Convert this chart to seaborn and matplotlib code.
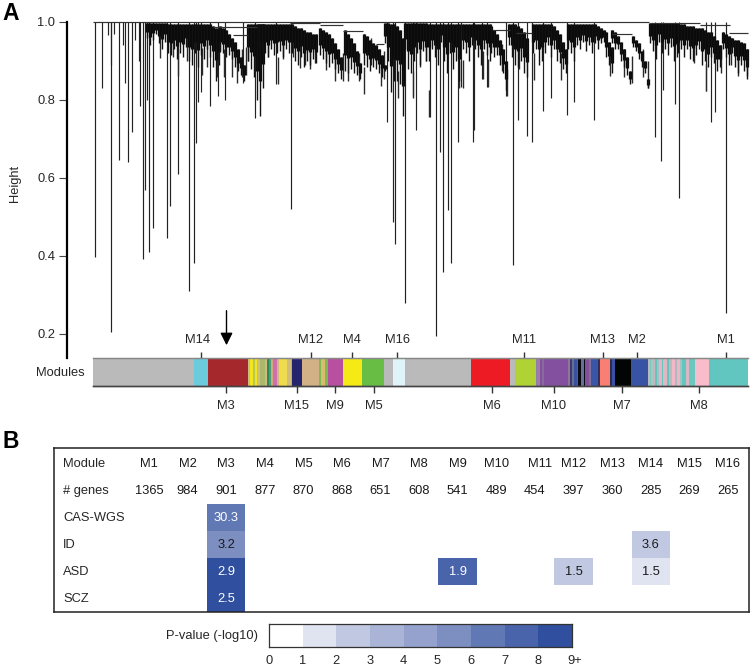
"""Module dendrogram with colour bar (A) and enrichment table (B)."""

import numpy as np
import pandas as pd
import matplotlib
matplotlib.use("Agg")
import matplotlib.pyplot as plt
from matplotlib.colors import ListedColormap
from matplotlib.transforms import ScaledTranslation
import seaborn as sns

WIDTH, HEIGHT = 751, 666
FONT = 9.3

# --- dendrogram: long single branches (leaf position, lowest height) ---
stem_x = [95, 102, 107.5, 110.5, 111, 114, 118.5, 122.5, 125, 128, 131.5, 135, 139, 140, 143, 144.7,
          147, 148.5, 152.5, 167, 170, 178, 189, 194, 196, 198, 201, 210, 217.5, 225, 243, 255, 276, 291,
          386.5, 393, 395, 404.5, 413, 416, 430, 436, 440, 443, 448, 451, 458, 461, 473, 474, 482, 487,
          506, 512.5, 518, 527, 531.5, 542.5, 551, 567, 574, 594,
          654.5, 661, 663, 675, 678.5, 706, 711, 714.5, 726]
stem_low = [.397, .83, .967, .89, .205, .97, .646, .94, .843, .64, .718, .955, .90, .785, .392, .57,
            .80, .41, .472, .446, .527, .61, .31, .382, .69, .795, .82, .785, .81, .80, .843, .754, .84, .52,
            .744, .487, .431, .28, .81, .723, .757, .195, .667, .359, .518, .382, .692, .833, .692, .723, .855, .833,
            .81, .377, .75, .708, .692, .772, .805, .762, .795, .748,
            .705, .644, .825, .79, .55, .823, .744, .77, .254]

# --- dendrogram: medium tails below the clumps ---
tail_x = [160, 172.5, 178.3, 186.7, 201.7, 206.7, 216.7, 224, 231.7, 236.7, 241.7, 246, 248.3, 256.7,
          263.3, 268.3, 278.3, 283.3, 293.3, 300, 305, 310, 315, 326, 335, 343.3, 347.7, 359, 364.3, 371,
          381, 384.3, 397.7, 412.7, 420.3, 426, 429.3, 459.3, 463.3, 482.7, 487.7, 502, 506.7, 519.3, 533.7,
          561, 610.3, 624.3, 631.7, 642.7, 647.7, 694.3, 706, 721, 731, 737.7, 747]
tail_low = [.907, .911, .862, .90, .864, .885, .86, .86, .86, .843, .86, .865, .90, .885,
            .925, .911, .84, .905, .911, .883, .89, .879, .894, .877, .85, .85, .85, .85, .815, .89,
            .836, .855, .804, .804, .885, .90, .756, .83, .832, .855, .834, .874, .809, .88, .851,
            .851, .862, .86, .843, .86, .83, .894, .823, .87, .89, .861, .861]

# --- dendrogram: dense clumps, (top, low) per leaf, left to right ---
clump_starts = [147, 168, 207, 220, 248, 259, 292, 320, 345, 364, 385, 405,
                429, 463, 491, 509, 533, 568, 606, 612, 633, 650, 678, 723]
clump_01 = [(.998, .96), (.998, .94), (.998, .955), (.998, .97), (.998, .945), (.998, .93), (.998, .95)]
clump_02 = [(.996, .92), (.996, .915), (.996, .93), (.996, .905), (.996, .92), (.996, .91), (.996, .935),
            (.996, .90), (.996, .89), (.996, .92), (.996, .885), (.996, .915), (.996, .905)]
clump_03 = [(.996, .93), (.994, .91), (.99, .885), (.985, .85), (.98, .89)]
clump_04 = [(.99, .925), (.985, .92), (.98, .91), (.97, .915), (.96, .905), (.95, .885), (.93, .875),
            (.91, .865), (.89, .85)]
clump_05 = [(.996, .90), (.996, .88), (.996, .86), (.996, .80), (.996, .76), (.996, .83)]
clump_06 = [(.995, .93), (.995, .925), (.995, .92), (.995, .91), (.995, .93), (.995, .915), (.995, .92),
            (.995, .925), (.995, .91), (.995, .93), (.995, .92)]
clump_07 = [(.995, .92), (.99, .90), (.985, .89), (.985, .91), (.98, .885), (.975, .90), (.975, .89),
            (.97, .905), (.97, .895)]
clump_08 = [(.985, .915), (.98, .905), (.975, .895), (.97, .885), (.96, .895), (.945, .88), (.93, .87), (.91, .855)]
clump_09 = [(.98, .875), (.97, .87), (.96, .88), (.945, .87), (.925, .865), (.895, .855)]
clump_10 = [(.97, .89), (.965, .885), (.955, .875), (.945, .885), (.94, .88), (.93, .87), (.915, .86), (.89, .875)]
clump_11 = [(.997, .945), (.997, .90), (.996, .82), (.995, .85), (.99, .85), (.98, .84), (.96, .76)]
clump_12 = [(.997, .93), (.997, .88), (.997, .87), (.997, .90), (.997, .92), (.997, .89), (.997, .925), (.997, .90)]
clump_13 = [(.995, .90), (.995, .93), (.995, .91), (.995, .89), (.995, .95), (.995, .90), (.995, .87),
            (.995, .92), (.995, .88), (.995, .90), (.995, .85)]
clump_14 = [(.995, .93), (.995, .92), (.995, .90), (.995, .94), (.995, .93), (.995, .91), (.995, .89),
            (.995, .93), (.995, .915), (.995, .90)]
clump_15 = [(.99, .92), (.98, .91), (.97, .915), (.955, .89), (.93, .87), (.90, .825)]
clump_16 = [(.995, .94), (.995, .91), (.995, .89), (.99, .885), (.985, .90), (.975, .87), (.96, .86)]
clump_17 = [(.995, .92), (.995, .93), (.995, .89), (.995, .90), (.995, .92), (.995, .94), (.995, .91),
            (.99, .93), (.98, .90), (.97, .895), (.95, .88), (.93, .87)]
clump_18 = [(.995, .93), (.995, .92), (.995, .90), (.995, .94), (.995, .93), (.995, .95), (.995, .925),
            (.995, .94), (.995, .92), (.995, .945), (.99, .93), (.985, .945), (.98, .95)]
clump_19 = [(.975, .91), (.95, .89), (.935, .87)]
clump_20 = [(.98, .945), (.975, .93), (.965, .93), (.95, .90), (.93, .885), (.91, .865), (.875, .84)]
clump_21 = [(.965, .935), (.955, .925), (.945, .905), (.925, .885), (.90, .87), (.855, .83)]
clump_22 = [(.998, .945), (.998, .925), (.998, .905), (.998, .95), (.998, .92), (.998, .93), (.998, .915),
            (.998, .935), (.998, .90), (.998, .91)]
clump_23 = [(.995, .92), (.995, .93), (.995, .91), (.99, .93), (.99, .905), (.99, .90), (.985, .915),
            (.985, .93), (.985, .89), (.98, .90), (.975, .885), (.975, .91), (.965, .895), (.955, .875), (.94, .885)]
clump_24 = [(.975, .93), (.97, .91), (.965, .89), (.96, .92), (.955, .885), (.955, .87), (.95, .89),
            (.945, .875), (.93, .855)]
clumps = [clump_01, clump_02, clump_03, clump_04, clump_05, clump_06, clump_07, clump_08,
          clump_09, clump_10, clump_11, clump_12, clump_13, clump_14, clump_15, clump_16,
          clump_17, clump_18, clump_19, clump_20, clump_21, clump_22, clump_23, clump_24]

# --- dendrogram: horizontal merges ---
shelf_from = [93, 213, 233, 290, 320, 343, 376, 492, 516, 612, 650, 700, 729]
shelf_to = [649, 257, 248, 320, 343, 363, 384, 510, 532, 632, 700, 730, 748]
shelf_height = [1.0, .988, .967, .997, .992, .978, .944, .98, .971, .969, .998, .992, .973]

# --- colour bar under the tree ---
module_widths = [101, 13.5, 40.5,
                 1.5, 3.5, 2, 2, 2.5, 5.5, 2, 2, 2, 2, 4, 2, 2, 6, 3.5, 1.5,
                 10, 17, 2, 4, 3.3, 14.2, 19.5, 22, 9, 12, 66, 39, 5, 20.5,
                 1.5, 3, 2, 2, 24, 2, 2, 2, 2.7, 1.3, 3.3, 2.7, 1.3, 3.4, 2.6, 6.7, 2,
                 10, 2, 3.4, 15.6, 17,
                 2, 1.4, 2, 2, 2, 2, 2.6, 1.4, 4, 2, 2.6, 3.4, 2, 3, 1.6, 4, 2.7, 6.3,
                 14, 39]
module_colors = ["#bababa", "#6bcbdd", "#a5282c",
                 "#cdbb80", "#f5e51f", "#b8c850", "#f5e51f", "#d3bd7b", "#a9b86a", "#d3b97f", "#2e8b57", "#4f9e7a",
                 "#d3a77f", "#d070a8", "#d2b48c", "#f2dc3a", "#f0dc50", "#d3bd7b", "#a9b86a",
                 "#27246e", "#d2b187", "#7dba52", "#d8bd70", "#7dba52", "#b9509f", "#f5e916", "#68bd45", "#bababa",
                 "#e0f3f9", "#bababa", "#ed1c24", "#bababa", "#b0d235",
                 "#8f7fa8", "#a07aa8", "#8350a0", "#8a6a9a", "#8350a0", "#8f7598", "#3b3b70", "#6a6f90", "#3a50a0",
                 "#5a5f88", "#0a0a10", "#66709a", "#0a0a10", "#8350a0", "#7f6f95", "#3a55a5", "#30305c",
                 "#f97f72", "#2a2f50", "#3a50a0", "#030505", "#3853a4",
                 "#bababa", "#7cc8c4", "#a4c8c4", "#c8b4bc", "#62c6c0", "#a8c0c0", "#e8b4c4", "#62c6c0", "#e0b8c4",
                 "#62c6c0", "#b8bcbc", "#f2b8c8", "#b0b8bc", "#eab8c6", "#a0c4c2", "#62c6c0", "#d8b8c2", "#6cc7c0",
                 "#f9bccb", "#62c6c0"]
top_names = ["M14", "M12", "M4", "M16", "M11", "M13", "M2", "M1"]
top_ticks = [201, 311, 352, 397, 523.7, 602.7, 637, 726]
bottom_names = ["M3", "M15", "M9", "M5", "M6", "M10", "M7", "M8"]
bottom_ticks = [226, 296.5, 334.7, 374, 492, 554, 621.5, 699]

# --- enrichment table ---
row_names = ["Module", "# genes", "CAS-WGS", "ID", "ASD", "SCZ"]
module_names = [f"M{i}" for i in range(1, 17)]
gene_counts = [1365, 984, 901, 877, 870, 868, 651, 608, 541, 489, 454, 397, 360, 285, 269, 265]
# column -> P-value text, then -log10 band of the cell
cas_wgs_p = {"M3": "30.3"}
id_p = {"M3": "3.2", "M14": "3.6"}
asd_p = {"M3": "2.9", "M9": "1.9", "M12": "1.5", "M14": "1.5"}
scz_p = {"M3": "2.5"}
cas_wgs_band = {"M3": 6.5}
id_band = {"M3": 5.5, "M14": 2.5}
asd_band = {"M3": 8.5, "M9": 7.5, "M12": 2.5, "M14": 1.5}
scz_band = {"M3": 8.5}

band_colors = ["#ffffff", "#e0e4f1", "#c1c9e2", "#a9b4d6", "#94a2cd", "#7d8ec0", "#6078b4", "#4a64ac", "#30509f"]
band_labels = ["0", "1", "2", "3", "4", "5", "6", "7", "8", "9+"]
band_mid = [0.5, 1.5, 2.5, 3.5, 4.5, 5.5, 6.5, 7.5, 8.5]

sns.set_theme(style="white", font="Liberation Sans", rc={"font.size": FONT})
fig = plt.figure(figsize=(WIDTH / 100, HEIGHT / 100), dpi=100)


def axes_px(left, top, right, bottom, **kw):
    return fig.add_axes([left / WIDTH, 1 - bottom / HEIGHT, (right - left) / WIDTH, (bottom - top) / HEIGHT], **kw)


def nudge(label, px):
    label.set_transform(label.get_transform() + ScaledTranslation(px / 100, 0, fig.dpi_scale_trans))


# --- Panel A: dendrogramma ---
ax = axes_px(67, 22, 748, 358)
ax.patch.set_alpha(0)
ax.set_xlim(67, 748)
ax.set_ylim(1 - 336 / 390, 1.0)
ax.vlines(stem_x, stem_low, 1.0, color="#222222", lw=0.85, clip_on=False)
tail_low = np.array(tail_low)
ax.vlines(tail_x, tail_low, tail_low + 0.07, color="#2a2a2a", lw=1.0, clip_on=False)
for start, clump in zip(clump_starts, clumps):
    xs = start + 3 * np.arange(len(clump))
    tops, lows = map(np.array, zip(*clump))
    # corpo pieno in alto, punte sottili in basso
    ax.vlines(xs, tops - 0.62 * (tops - lows), tops, color="#0a0a0a", lw=2.35, clip_on=False)
    ax.vlines(xs, lows, tops, color="#111111", lw=1.0, clip_on=False)
ax.hlines(shelf_height, shelf_from, shelf_to, color="#333333", lw=0.85, clip_on=False)
ax.set_xticks([])
ax.set_yticks([0.2, 0.4, 0.6, 0.8, 1.0], ["0.2", "0.4", "0.6", "0.8", "1.0"])
ax.tick_params(axis="y", left=True, length=5.5, width=0.8, color="#444444", pad=2.8, labelsize=FONT)
ax.set_ylabel("Height", fontsize=FONT, labelpad=0)
ax.yaxis.set_label_coords(-45.5 / 681, 1 - 161.5 / 336)
sns.despine(ax=ax, bottom=True)
ax.spines["left"].set_linewidth(1.6)
ax.spines["left"].set_color("black")
ax.annotate("", xy=(226.5, 0.2 + (333.3 - 344.5) / 390), xytext=(226.5, 0.2 + (333.3 - 310) / 390),
            arrowprops=dict(arrowstyle="-|>,head_width=0.4,head_length=0.8", color="black", lw=1.0,
                            shrinkA=0, shrinkB=0), annotation_clip=False)

# --- barra dei moduli ---
bar_ax = axes_px(93, 358, 748, 386)
left_edges = 93 + np.cumsum([0] + module_widths[:-1])
bar_ax.bar(left_edges, 1, width=module_widths, color=module_colors, align="edge", lw=0)
bar_ax.set_xlim(93, 748)
bar_ax.set_ylim(0, 1)
bar_ax.set_xticks(bottom_ticks, bottom_names)
bar_ax.set_yticks([0.5], ["Modules"])
bar_ax.tick_params(axis="x", bottom=True, length=5, width=1, color="#333333", pad=5, labelsize=FONT)
bar_ax.tick_params(axis="y", left=False, length=0, pad=6, labelsize=FONT)
bar_top = bar_ax.twiny()
bar_top.set_xlim(93, 748)
bar_top.set_xticks(top_ticks, top_names)
bar_top.tick_params(axis="x", top=True, length=4, width=1, color="#333333", pad=4.5, labelsize=FONT)
nudge(bar_top.get_xticklabels()[0], -3)
for a in (bar_ax, bar_top):
    a.spines["left"].set_visible(False)
    a.spines["right"].set_visible(False)
    a.spines["top"].set_color("#888888")
    a.spines["top"].set_linewidth(0.9)
    a.spines["bottom"].set_color("#444444")
    a.spines["bottom"].set_linewidth(1.0)

# --- Panel B: tabella di arricchimento ---
levels = pd.DataFrame(np.nan, index=row_names, columns=module_names)
labels = pd.DataFrame("", index=row_names, columns=module_names)
levels.loc["Module"] = 0
levels.loc["# genes"] = 0
labels.loc["Module"] = module_names
labels.loc["# genes"] = [str(n) for n in gene_counts]
for row, vals, bands in [("CAS-WGS", cas_wgs_p, cas_wgs_band), ("ID", id_p, id_band),
                         ("ASD", asd_p, asd_band), ("SCZ", scz_p, scz_band)]:
    for col in vals:
        labels.loc[row, col] = vals[col]
        levels.loc[row, col] = bands[col]

band_cmap = ListedColormap(band_colors)
hm_ax = axes_px(129.7, 450.5, 747.3, 612)
sns.heatmap(levels, ax=hm_ax, cmap=band_cmap, vmin=0, vmax=9, cbar=False, annot=labels, fmt="",
            annot_kws={"fontsize": FONT, "color": "#1a1a1a"})
for txt in hm_ax.texts:
    if txt.get_text() in ("30.3", "2.9", "2.5", "1.9"):
        txt.set_color("#ffffff")
    if txt.get_text() == "M11":
        txt.set_x(txt.get_position()[0] + 0.13)
hm_ax.xaxis.set_visible(False)
hm_ax.set_xlabel("")
hm_ax.set_yticks(np.arange(len(row_names)) + 0.5, row_names, rotation=0, ha="left", va="center")
hm_ax.tick_params(axis="y", left=False, length=0, pad=(129.7 - 63) * 0.72, labelsize=FONT)

frame = axes_px(54, 448, 749, 612)
frame.patch.set_alpha(0)
frame.set_xticks([])
frame.set_yticks([])
for spine in frame.spines.values():
    spine.set_linewidth(1.1)
    spine.set_color("#222222")

# --- scala colori ---
key_ax = axes_px(269, 624, 572, 647)
sns.heatmap([band_mid], ax=key_ax, cmap=band_cmap, vmin=0, vmax=9, cbar=False)
key_ax.set_xticks(np.arange(len(band_labels)), band_labels, rotation=0)
key_ax.set_yticks([0.5], ["P-value (-log10)"], rotation=0, va="center")
key_ax.tick_params(axis="x", bottom=False, length=0, pad=5.5, labelsize=FONT)
key_ax.tick_params(axis="y", left=False, length=0, pad=8, labelsize=FONT)
nudge(key_ax.get_xticklabels()[-1], 3)
for spine in key_ax.spines.values():
    spine.set_visible(True)
    spine.set_linewidth(0.9)
    spine.set_color("#333333")

fig.text(2 / WIDTH, 1 - 20 / HEIGHT, "A", fontsize=16.5, fontweight="bold", color="black")
fig.text(2.5 / WIDTH, 1 - 448 / HEIGHT, "B", fontsize=16.5, fontweight="bold", color="black")

fig.savefig("out.png", dpi=100)
plt.close(fig)
